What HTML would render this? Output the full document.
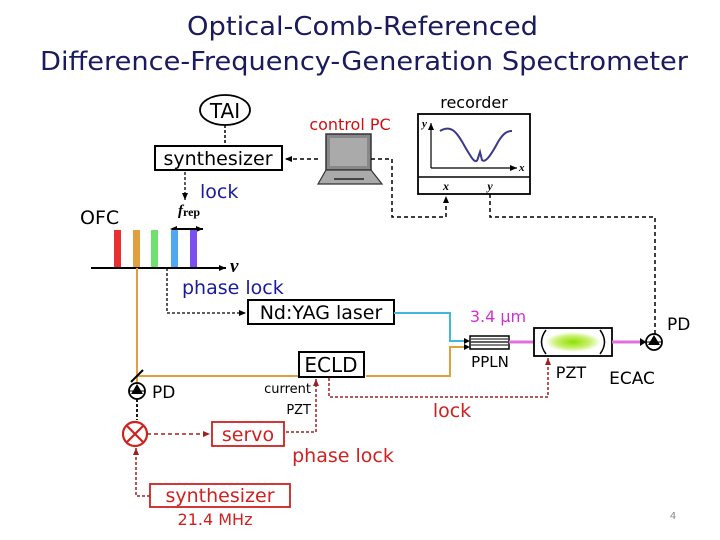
<!DOCTYPE html>
<html><head><meta charset="utf-8"><style>
html,body{margin:0;padding:0;background:#fff;}
svg{display:block;font-family:"DejaVu Sans","Liberation Sans",sans-serif;}
</style></head><body>
<svg width="720" height="540" viewBox="0 0 720 540" xmlns="http://www.w3.org/2000/svg">
<defs>
<marker id="ak" markerWidth="8" markerHeight="8" refX="7" refY="4" orient="auto" markerUnits="userSpaceOnUse"><path d="M0,1 L7,4 L0,7 z" fill="#000"/></marker>
<marker id="ar" markerWidth="8" markerHeight="8" refX="7" refY="4" orient="auto" markerUnits="userSpaceOnUse"><path d="M0,1 L7,4 L0,7 z" fill="#a02020"/></marker>
<radialGradient id="gl" cx="50%" cy="50%" r="50%"><stop offset="0" stop-color="#8ee000"/><stop offset="0.6" stop-color="#c8f070"/><stop offset="1" stop-color="#fff"/></radialGradient>
</defs>
<text x="187" y="35" font-size="26" textLength="351" lengthAdjust="spacingAndGlyphs" fill="#1a1a5e">Optical-Comb-Referenced</text>
<text x="40" y="70" font-size="26" textLength="648" lengthAdjust="spacingAndGlyphs" fill="#1a1a5e">Difference-Frequency-Generation Spectrometer</text>

<!-- TAI -->
<ellipse cx="225" cy="110" rx="25" ry="15" fill="#fff" stroke="#000" stroke-width="1.8"/>
<text x="225" y="118" font-size="20" text-anchor="middle">TAI</text>
<line x1="225" y1="125" x2="225" y2="146" stroke="#000" stroke-width="1.5" stroke-dasharray="3,2"/>
<rect x="155" y="146" width="127" height="24" fill="#fff" stroke="#000" stroke-width="2"/>
<text x="218" y="165" font-size="19" text-anchor="middle">synthesizer</text>
<!-- PC -->
<text x="350" y="130" font-size="16" text-anchor="middle" fill="#d01010">control PC</text>
<rect x="326" y="134" width="45" height="36" fill="#888" stroke="#333" stroke-width="1.5"/>
<rect x="330" y="138" width="37" height="28" fill="#aaa"/>
<path d="M326,170 L371,170 L382,184 L318,184 Z" fill="#aaa" stroke="#333" stroke-width="1.2"/>
<line x1="334" y1="179" x2="364" y2="179" stroke="#444" stroke-width="2"/>
<line x1="318" y1="159" x2="285" y2="159" stroke="#000" stroke-width="1.5" stroke-dasharray="4,3" marker-end="url(#ak)"/>
<polyline points="371,159 392,159 392,217 446,217 446,196" fill="none" stroke="#000" stroke-width="1.5" stroke-dasharray="4,3" marker-end="url(#ak)"/>
<!-- recorder -->
<text x="474" y="108" font-size="16" text-anchor="middle">recorder</text>
<rect x="418" y="114" width="112" height="80" fill="#fff" stroke="#000" stroke-width="1.8"/>
<line x1="418" y1="177" x2="530" y2="177" stroke="#000" stroke-width="1.5"/>
<line x1="431" y1="168" x2="431" y2="123" stroke="#000" stroke-width="1.2" marker-end="url(#ak)"/>
<line x1="431" y1="168" x2="517" y2="168" stroke="#000" stroke-width="1.2" marker-end="url(#ak)"/>
<text x="422" y="127" font-size="11" font-family="Liberation Serif" font-style="italic" font-weight="bold">y</text>
<text x="519" y="171" font-size="11" font-family="Liberation Serif" font-style="italic" font-weight="bold">x</text>
<path d="M440,131 C455,122 460,140 470,155 C474,162 477,163 478,158 L480,152 L482,160 C485,163 490,157 498,142 C504,132 508,131 512,131" fill="none" stroke="#3a3a8a" stroke-width="2"/>
<text x="446" y="190" font-size="12" font-family="Liberation Serif" font-style="italic" font-weight="bold" text-anchor="middle">x</text>
<text x="490" y="190" font-size="12" font-family="Liberation Serif" font-style="italic" font-weight="bold" text-anchor="middle">y</text>
<polyline points="490,194 490,217 655,217 655,334" fill="none" stroke="#000" stroke-width="1.5" stroke-dasharray="4,3"/>
<!-- lock synth -> comb -->
<line x1="185" y1="172" x2="185" y2="200" stroke="#000" stroke-width="1.3" stroke-dasharray="3,2" marker-end="url(#ak)"/>
<text x="200" y="198" font-size="19" fill="#1a1aa0">lock</text>
<text x="178" y="215" font-size="15" font-family="Liberation Serif" font-style="italic" font-weight="bold">f<tspan font-size="12" font-style="normal" dy="1">rep</tspan></text>
<line x1="172" y1="229" x2="203" y2="229" stroke="#000" stroke-width="2" marker-end="url(#ak)"/>
<path d="M177,226 L170,229 L177,232 z" fill="#000"/>
<text x="80" y="224" font-size="19">OFC</text>
<rect x="114" y="230" width="7" height="38" fill="#e83030"/>
<rect x="133" y="230" width="7" height="38" fill="#e0a040"/>
<rect x="151" y="230" width="7" height="38" fill="#70e070"/>
<rect x="171" y="230" width="7" height="38" fill="#50a8f0"/>
<rect x="190" y="230" width="7" height="38" fill="#7a50f0"/>
<line x1="91" y1="268" x2="226" y2="268" stroke="#000" stroke-width="2" marker-end="url(#ak)"/>
<text x="230" y="272" font-size="19" font-family="Liberation Serif" font-style="italic" font-weight="bold">ν</text>
<!-- phase lock to YAG -->
<polyline points="167,268 167,313 246,313" fill="none" stroke="#000" stroke-width="1.3" stroke-dasharray="3,2" marker-end="url(#ak)"/>
<text x="182" y="294" font-size="19" fill="#1a1aa0">phase lock</text>
<rect x="248" y="300" width="146" height="24" fill="#fff" stroke="#000" stroke-width="2"/>
<text x="321" y="319" font-size="19" text-anchor="middle">Nd:YAG laser</text>
<polyline points="394,313 450,313 450,341 468,341" fill="none" stroke="#40b8d8" stroke-width="2"/>
<path d="M464,338 L470,341 L464,344z" fill="#000"/>
<text x="498" y="322" font-size="16" text-anchor="middle" fill="#d030d0">3.4 μm</text>
<!-- orange beam -->
<line x1="137" y1="268" x2="137" y2="384" stroke="#e0a040" stroke-width="2"/>
<polyline points="137,376 298,376" fill="none" stroke="#e0a040" stroke-width="2"/>
<polyline points="366,376 450,376 450,347 468,347" fill="none" stroke="#e0a040" stroke-width="2"/>
<path d="M464,344 L470,347 L464,350z" fill="#000"/>
<line x1="131" y1="382" x2="143" y2="370" stroke="#000" stroke-width="2"/>
<rect x="299" y="352" width="65" height="25" fill="#fff" stroke="#000" stroke-width="2"/>
<text x="331" y="372" font-size="20" text-anchor="middle">ECLD</text>
<!-- PPLN -->
<rect x="470" y="336" width="39" height="13" fill="#fff" stroke="#000" stroke-width="1.5"/>
<line x1="471" y1="339" x2="508" y2="339" stroke="#000" stroke-width="1"/>
<line x1="471" y1="342" x2="508" y2="342" stroke="#000" stroke-width="1.2"/>
<line x1="471" y1="345" x2="508" y2="345" stroke="#000" stroke-width="1"/>
<text x="490" y="367" font-size="15" text-anchor="middle">PPLN</text>
<line x1="509" y1="342" x2="534" y2="342" stroke="#e070e0" stroke-width="3"/>
<rect x="534" y="328" width="78" height="28" fill="#fff" stroke="#000" stroke-width="1.8"/>
<ellipse cx="573" cy="342" rx="28" ry="10" fill="url(#gl)"/>
<path d="M546,330 Q537,342 546,354" fill="none" stroke="#000" stroke-width="1.5"/>
<path d="M600,330 Q609,342 600,354" fill="none" stroke="#000" stroke-width="1.5"/>
<line x1="612" y1="342" x2="645" y2="342" stroke="#e070e0" stroke-width="3"/>
<path d="M640,338 L646,342 L640,346z" fill="#000"/>
<circle cx="654" cy="342" r="8" fill="#fff" stroke="#000" stroke-width="1.8"/>
<path d="M654,335 L660,345 L648,345z" fill="#000"/><line x1="646" y1="342" x2="662" y2="342" stroke="#000"/>
<text x="667" y="330" font-size="17">PD</text>
<text x="571" y="378" font-size="16" text-anchor="middle">PZT</text>
<text x="632" y="384" font-size="17" text-anchor="middle">ECAC</text>
<!-- left PD -->
<circle cx="137" cy="391" r="8" fill="#fff" stroke="#000" stroke-width="1.8"/>
<path d="M137,384 L143,394 L131,394z" fill="#000"/><line x1="129" y1="391" x2="145" y2="391" stroke="#000"/>
<text x="152" y="398" font-size="17">PD</text>
<line x1="137" y1="399" x2="137" y2="420" stroke="#000" stroke-width="1.8" stroke-dasharray="3,2"/>
<!-- mixer -->
<circle cx="135" cy="434" r="12" fill="#fff" stroke="#d02020" stroke-width="2.2"/>
<line x1="127" y1="426" x2="143" y2="442" stroke="#d02020" stroke-width="2.2"/>
<line x1="143" y1="426" x2="127" y2="442" stroke="#d02020" stroke-width="2.2"/>
<line x1="147" y1="434" x2="210" y2="434" stroke="#a02020" stroke-width="1.5" stroke-dasharray="4,3" marker-end="url(#ar)"/>
<rect x="212" y="422" width="72" height="24" fill="#fff" stroke="#d02020" stroke-width="1.8"/>
<text x="248" y="441" font-size="19" text-anchor="middle" fill="#d02020">servo</text>
<polyline points="286,432 316,432 316,379" fill="none" stroke="#a02020" stroke-width="1.5" stroke-dasharray="3,2" marker-end="url(#ar)"/>
<text x="311" y="393" font-size="13" text-anchor="end">current</text>
<text x="311" y="414" font-size="13" text-anchor="end">PZT</text>
<polyline points="329,378 329,397 548,397 548,358" fill="none" stroke="#a02020" stroke-width="1.5" stroke-dasharray="3,2" marker-end="url(#ar)"/>
<text x="452" y="417" font-size="19" text-anchor="middle" fill="#d02020">lock</text>
<text x="343" y="462" font-size="19" text-anchor="middle" fill="#d02020">phase lock</text>
<polyline points="150,496 136,496 136,448" fill="none" stroke="#a02020" stroke-width="1.5" stroke-dasharray="3,2" marker-end="url(#ar)"/>
<rect x="150" y="484" width="140" height="23" fill="#fff" stroke="#d02020" stroke-width="1.8"/>
<text x="220" y="502" font-size="19" text-anchor="middle" fill="#d02020">synthesizer</text>
<text x="215" y="525" font-size="16" text-anchor="middle" fill="#d02020">21.4 MHz</text>
<text x="673" y="519" font-size="10" fill="#888" text-anchor="middle">4</text>
</svg>
</body></html>
